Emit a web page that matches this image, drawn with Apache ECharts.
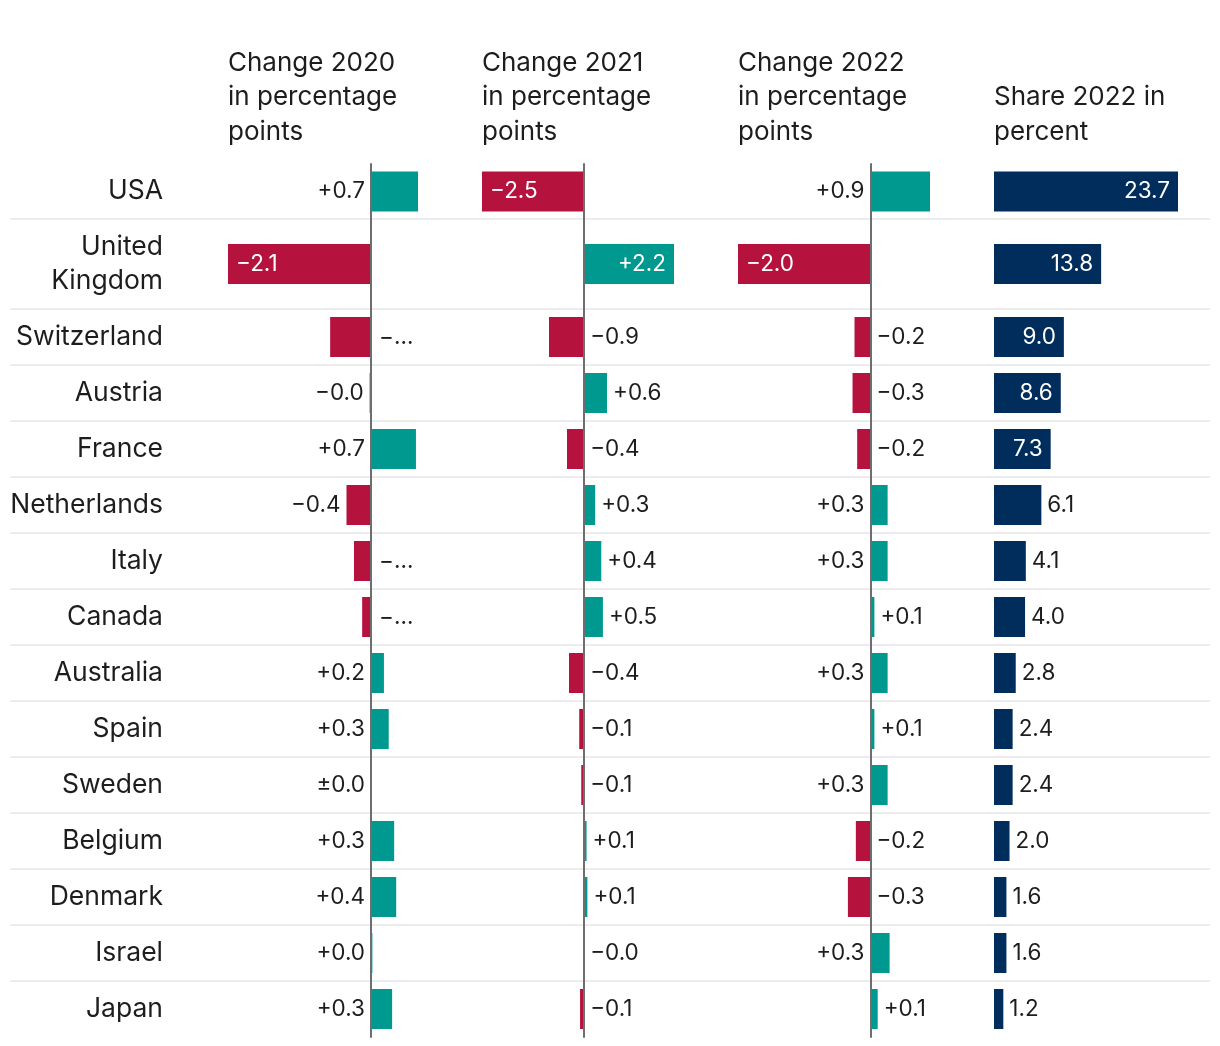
<!DOCTYPE html>
<html>
<head>
<meta charset="utf-8">
<script src="https://cdn.jsdelivr.net/npm/echarts@6/dist/echarts.min.js"></script>
<style>html,body{margin:0;padding:0;background:#fff}#c{width:1220px;height:1046px}</style>
</head>
<body>
<div id="c"></div>
<script>
// ---- data ----
const countries = ['USA','United Kingdom','Switzerland','Austria','France','Netherlands','Italy','Canada','Australia','Spain','Sweden','Belgium','Denmark','Israel','Japan'];
const change2020 = [0.69,-2.1,-0.6,-0.02,0.66,-0.36,-0.25,-0.13,0.19,0.26,0,0.34,0.37,0.02,0.31];
const change2021 = [-2.5,2.2,-0.86,0.56,-0.42,0.27,0.42,0.46,-0.37,-0.12,-0.07,0.06,0.08,-0.02,-0.1];
const change2022 = [0.9,-2.0,-0.24,-0.27,-0.2,0.26,0.26,0.06,0.26,0.06,0.26,-0.22,-0.34,0.29,0.11];
const share2022 = [23.7,13.8,9.0,8.6,7.3,6.1,4.1,4.0,2.8,2.4,2.4,2.0,1.6,1.6,1.2];
const headers = ['Change 2020\nin percentage\npoints','Change 2021\nin percentage\npoints','Change 2022\nin percentage\npoints','Share 2022 in\npercent'];

// ---- label placement (style) ----
const place2020 = ['left','in','trunc','left','left','left','trunc','trunc','left','left','left','left','left','left','left'];
const place2021 = ['in','inR','right','right','right','right','right','right','right','right','right','right','right','right','right'];
const place2022 = ['left','in','right','right','right','left','left','right','left','right','left','right','right','left','right'];
const placeShare = ['inR','inR','inR','inR','inR','right','right','right','right','right','right','right','right','right','right'];

// ---- layout ----
const FONT = 'Inter';
const colX = [228, 482, 738, 994];
const colW = [190, 192, 192, 184];
const bands = [{top:164, h:55, from:0, to:1}, {top:219, h:90, from:1, to:2}, {top:309, h:728, from:2, to:15}];
const RED = '#b5133e', TEAL = '#00998f', NAVY = '#002d5b', INK = '#1d1d1d';

const columns = [
  {data: change2020, place: place2020, change: true},
  {data: change2021, place: place2021, change: true},
  {data: change2022, place: place2022, change: true},
  {data: share2022, place: placeShare, change: false}
];

function fmtChange(v){
  if (v === 0) return '±0.0';
  return (v > 0 ? '+' : '\u2212') + Math.abs(v).toFixed(1);
}
function labelFor(place){
  const base = {show:true, fontFamily:FONT, fontSize:22.5, color:INK};
  if (place === 'left') return Object.assign(base, {position:'left', distance:6});
  if (place === 'right') return Object.assign(base, {position:'right', distance:6});
  if (place === 'in') return Object.assign(base, {position:'insideLeft', distance:8, color:'#fff'});
  if (place === 'inR') return Object.assign(base, {position:'insideRight', distance:8, color:'#fff'});
  if (place === 'trunc') return Object.assign(base, {position:'right', distance:8, width:38, overflow:'truncate', ellipsis:'\u2026'});
  return base;
}

const grid = [], xAxis = [], yAxis = [], series = [];
columns.forEach((col, ci) => {
  const mn = Math.min(0, ...col.data), mx = Math.max(...col.data);
  bands.forEach((b) => {
    const gi = grid.length;
    grid.push({left: colX[ci], width: colW[ci], top: b.top, height: b.h, containLabel:false});
    xAxis.push({gridIndex: gi, type:'value', min: mn, max: mx, show:false});
    yAxis.push({
      gridIndex: gi, type:'category', inverse:true,
      data: countries.slice(b.from, b.to),
      axisTick:{show:false},
      splitLine:{show:false},
      axisLine:{show: col.change, onZero:true, lineStyle:{color:'#6e6e6e', width:2}},
      axisLabel:{
        show: ci === 0, margin: 65, fontFamily: FONT, fontSize: 26.5, color: INK, lineHeight: 34,
        formatter: (v) => v.length > 12 ? v.replace(' ', '\n') : v
      },
      z: 5
    });
    series.push({
      type:'bar', xAxisIndex: gi, yAxisIndex: gi, barWidth: 40, silent:true, z: 2,
      data: col.data.slice(b.from, b.to).map((v, k) => ({
        value: v,
        itemStyle: {color: col.change ? (v < 0 ? RED : TEAL) : NAVY},
        label: Object.assign(labelFor(col.place[b.from + k]), {
          formatter: col.change ? fmtChange(v) : v.toFixed(1)
        })
      }))
    });
  });
});

// separators between rows, from band layout
const sepY = [];
bands.forEach((b, bi) => {
  const n = b.to - b.from, rh = b.h / n;
  for (let k = 0; k < n; k++) {
    const y = b.top + rh * (k + 1);
    if (!(bi === bands.length - 1 && k === n - 1)) sepY.push(y);
  }
});
const graphic = sepY.map(y => ({
  type:'line', z: 0, silent:true,
  shape:{x1:10, y1:y, x2:1210, y2:y},
  style:{stroke:'#ececec', lineWidth:2}
}));
headers.forEach((h, i) => graphic.push({
  type:'text', silent:true, x: colX[i], y: 149,
  style:{text:h, font:'26px ' + FONT, fill: INK, lineHeight: 34.5, verticalAlign:'bottom', align:'left'}
}));

const chart = echarts.init(document.getElementById('c'), null, {renderer:'canvas'});
chart.setOption({
  animation:false,
  backgroundColor:'#fff',
  grid, xAxis, yAxis, series, graphic
});
</script>
</body>
</html>
